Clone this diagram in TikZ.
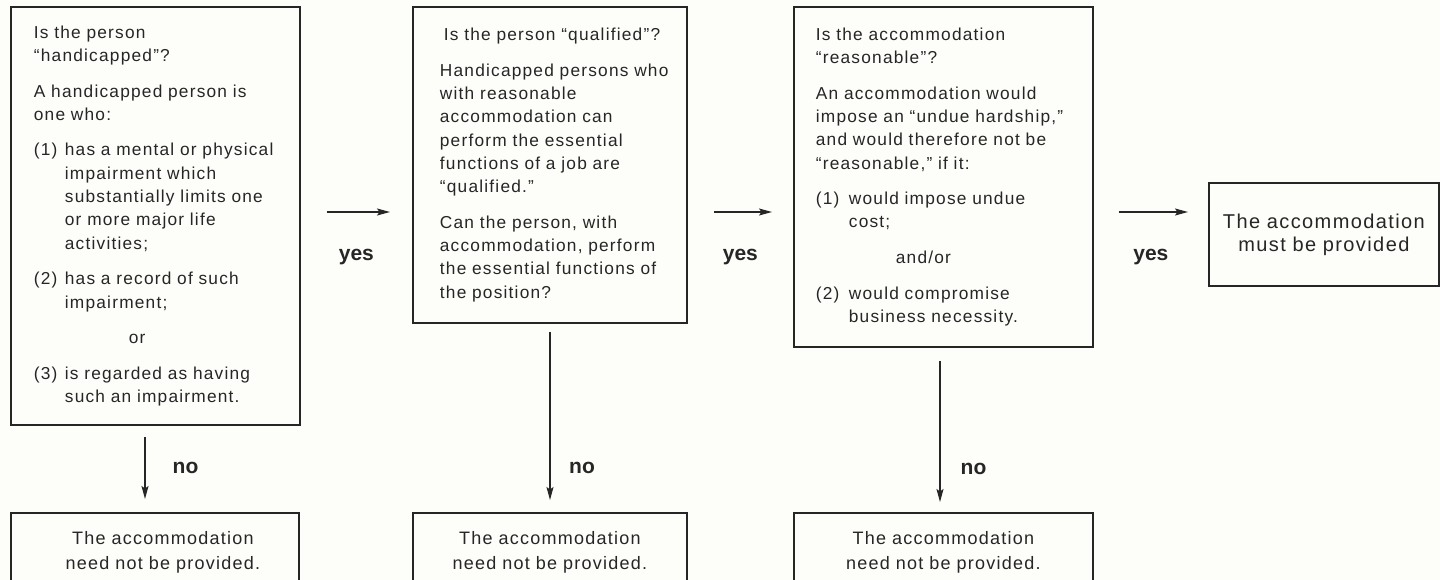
\documentclass[tikz,border=0pt]{standalone}
\usepackage{fontspec}
\usetikzlibrary{arrows.meta,calc}
\newfontfamily\bodyf[LetterSpace=7]{Liberation Sans}
\newfontfamily\labf{Liberation Sans}
\definecolor{ink}{RGB}{38,38,38}
\definecolor{paper}{RGB}{253,253,250}
\newcommand\pg{\par\vspace{12.3pt}}
\newcommand\itm[2][31pt]{\hangindent=#1\hangafter=1 \makebox[#1][l]{#2}}
\begin{document}
\begin{tikzpicture}[x=1pt,y=-1pt,
  box/.style={draw=ink, line width=1.8pt, inner xsep=0pt, inner ysep=0pt,
    anchor=north west, text=ink},
  bodytxt/.style={font=\bodyf\fontsize{17.3}{23.3}\selectfont},
  endtxt/.style={font=\bodyf\fontsize{18}{25}\selectfont},
  bigtxt/.style={font=\bodyf\fontsize{20}{23}\selectfont},
  arr/.style={draw=ink, line width=1.2pt, -{Stealth[length=13pt,width=7pt,inset=2.5pt]}},
  lab/.style={font=\labf\bfseries\fontsize{21}{21}\selectfont, text=ink, anchor=base, inner sep=0pt}]
\path[use as bounding box, fill=paper] (0,0) rectangle (1440,580);
\clip (0,0) rectangle (1440,580);

% top boxes
\node[box, bodytxt, text width=289pt, minimum height=418pt] (t1) at (10,6) {%
\parindent=0pt\leftskip=23pt\rightskip=0pt
Is the person\newline “handicapped”?\pg
A handicapped person is\newline one who:\pg
\itm{(1)}has a mental or physical\newline impairment which\newline substantially limits one\newline or more major life\newline activities;\pg
\itm{(2)}has a record of such\newline impairment;\pg
\hspace*{95pt}or\pg
\itm{(3)}is regarded as having\newline such an impairment.\par};

\node[box, bodytxt, text width=274pt, minimum height=316pt] (t2) at (412,6) {%
\parindent=0pt\leftskip=27pt\rightskip=0pt
\hspace*{4pt}Is the person “qualified”?\pg
Handicapped persons who\newline with reasonable\newline accommodation can\newline perform the essential\newline functions of a job are\newline “qualified.”\pg
Can the person, with\newline accommodation, perform\newline the essential functions of\newline the position?\par};

\node[box, bodytxt, text width=299pt, minimum height=340pt] (t3) at (793,6) {%
\parindent=0pt\leftskip=22pt\rightskip=0pt
Is the accommodation\newline “reasonable”?\pg
\makebox[259pt][s]{An accommodation would}\newline
\makebox[259pt][s]{impose an “undue hardship,”}\newline
\makebox[259pt][s]{and would therefore not be}\newline
“reasonable,” if it:\pg
\itm[33pt]{(1)}would impose undue\newline cost;\pg
\hspace*{80pt}and/or\pg
\itm[33pt]{(2)}would compromise\newline business necessity.\par};

\node[box, bigtxt, text width=230pt, minimum height=103pt] (t4) at (1208,182) {%
\centering The accommodation\\ must be provided\par};

% bottom boxes
\node[box, endtxt, text width=288pt, minimum height=78pt] (n1) at (10,512) {%
\centering\leftskip=16pt plus 1fil The accommodation\\ need not be provided.\par};
\node[box, endtxt, text width=274pt, minimum height=78pt] (n2) at (412,512) {%
\centering The accommodation\\ need not be provided.\par};
\node[box, endtxt, text width=299pt, minimum height=78pt] (n3) at (793,512) {%
\centering The accommodation\\ need not be provided.\par};

% yes connectors
\coordinate (row) at (0,212);
\draw[arr, shorten <=26pt, shorten >=22pt] (t1.east |- row) -- (t2.west |- row)
  node[lab, midway, yshift=-48pt] (y1) {yes};
\draw[arr, shorten <=26pt, shorten >=21pt] (t2.east |- row) -- (t3.west |- row)
  node[lab, midway, yshift=-48pt] (y2) {yes};
\draw[arr, shorten <=25pt, shorten >=20pt] (t3.east |- row) -- (t4.west |- row)
  node[lab, midway, yshift=-48pt] (y3) {yes};

% no connectors
\coordinate (c1) at (145,0);
\coordinate (c2) at (550,0);
\coordinate (c3) at (940,0);
\draw[arr, shorten <=11pt, shorten >=13pt] (t1.south -| c1) -- (n1.north -| c1);
\draw[arr, shorten <=8pt, shorten >=12pt] (t2.south -| c2) -- (n2.north -| c2);
\draw[arr, shorten <=13pt, shorten >=10pt] (t3.south -| c3) -- (n3.north -| c3);
\node[lab] (no1) at (185.5,473) {no};
\node[lab] (no2) at (582,473) {no};
\node[lab] (no3) at (973.5,474) {no};
\end{tikzpicture}
\end{document}
